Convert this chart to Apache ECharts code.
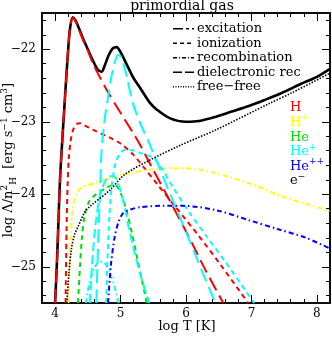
<!DOCTYPE html>
<html><head><meta charset="utf-8">
<script src="https://cdn.jsdelivr.net/npm/echarts@6/dist/echarts.min.js"></script>
<style>html,body{margin:0;padding:0;background:#fff}#c{width:332px;height:338px}</style>
</head><body><div id="c"></div>
<script>
// ---- ticks ----
const xMajorTicks = [4, 5, 6, 7, 8];
const xMinorTicks = [4.2,4.4,4.6,4.8,5.2,5.4,5.6,5.8,6.2,6.4,6.6,6.8,7.2,7.4,7.6,7.8];
const yMajorTicks = [-25, -24, -23, -22];
const yMinorTicks = [-25.4,-25.2,-24.8,-24.6,-24.4,-24.2,-23.8,-23.6,-23.4,-23.2,-22.8,-22.6,-22.4,-22.2,-21.8,-21.6];

// ---- data: [log T, log Lambda/nH^2] ----
const totalCooling = [[4.0,-25.5],[4.03,-24.9],[4.05,-24.4],[4.075,-23.8],[4.1,-23.4],[4.15,-22.68],[4.2,-22.0],[4.23,-21.7],[4.27,-21.56],[4.31,-21.6],[4.36,-21.7],[4.43,-21.86],[4.5,-22.0],[4.58,-22.16],[4.65,-22.28],[4.71,-22.31],[4.76,-22.22],[4.82,-22.08],[4.88,-21.99],[4.94,-21.97],[5.0,-22.04],[5.1,-22.22],[5.2,-22.4],[5.29,-22.52],[5.45,-22.74],[5.55,-22.83],[5.75,-22.95],[6.0,-23.0],[6.2,-22.99],[6.46,-22.93],[6.7,-22.86],[6.97,-22.78],[7.2,-22.7],[7.47,-22.6],[7.75,-22.48],[8.0,-22.38],[8.2,-22.27]];
const hExcitation = [[4.0,-25.5],[4.03,-24.9],[4.05,-24.4],[4.075,-23.8],[4.1,-23.4],[4.15,-22.68],[4.2,-22.0],[4.23,-21.7],[4.27,-21.57],[4.31,-21.61],[4.36,-21.72],[4.43,-21.88],[4.5,-22.02],[4.58,-22.2],[4.68,-22.38],[4.8,-22.58],[4.94,-22.79],[5.05,-22.95],[5.19,-23.15],[5.3,-23.32],[5.45,-23.58],[5.7,-24.0],[6.05,-24.6],[6.3,-25.05],[6.57,-25.5]];
const hIonization = [[4.16,-25.5],[4.175,-24.5],[4.19,-23.9],[4.21,-23.5],[4.24,-23.25],[4.28,-23.1],[4.33,-23.03],[4.38,-23.02],[4.45,-23.05],[4.6,-23.12],[4.72,-23.17],[4.84,-23.22],[5.0,-23.3],[5.19,-23.45],[5.4,-23.68],[5.55,-23.85],[5.8,-24.13],[6.2,-24.58],[6.55,-25.0],[6.95,-25.5]];
const hpRecombination = [[4.2,-25.5],[4.22,-25.0],[4.24,-24.6],[4.27,-24.2],[4.32,-24.02],[4.41,-23.9],[4.6,-23.85],[4.8,-23.79],[5.1,-23.72],[5.45,-23.66],[5.9,-23.64],[6.2,-23.66],[6.46,-23.71],[6.97,-23.85],[7.47,-24.03],[7.9,-24.15],[8.2,-24.23]];
const heIonization = [[4.35,-25.5],[4.38,-25.0],[4.41,-24.6],[4.45,-24.3],[4.52,-24.1],[4.6,-24.02],[4.75,-23.93],[4.9,-23.87],[4.97,-23.92],[5.03,-24.05],[5.09,-24.22],[5.17,-24.52],[5.25,-24.86],[5.33,-25.2],[5.4,-25.5]];
const hepExcitation = [[4.63,-25.5],[4.66,-24.6],[4.69,-23.9],[4.71,-23.4],[4.76,-22.95],[4.81,-22.66],[4.86,-22.38],[4.91,-22.19],[4.96,-22.08],[5.0,-22.1],[5.05,-22.22],[5.1,-22.4],[5.19,-22.75],[5.3,-23.02],[5.44,-23.3],[5.7,-23.87],[6.05,-24.63],[6.25,-25.07],[6.45,-25.5]];
const hepIonization = [[4.78,-25.5],[4.8,-24.9],[4.83,-24.3],[4.87,-23.85],[4.93,-23.55],[5.0,-23.43],[5.06,-23.39],[5.15,-23.39],[5.3,-23.43],[5.5,-23.5],[5.6,-23.6],[5.8,-23.9],[6.05,-24.25],[6.33,-24.6],[6.6,-24.93],[7.04,-25.5]];
const hepRecombination = [[4.47,-25.5],[4.53,-25.2],[4.6,-25.02],[4.68,-24.93],[4.75,-24.94],[4.82,-25.05],[4.9,-25.25],[4.97,-25.5]];
const hepDielectronic = [[4.53,-25.5],[4.57,-24.9],[4.62,-24.4],[4.68,-24.05],[4.75,-23.85],[4.83,-23.75],[4.9,-23.75],[4.96,-23.85],[5.02,-24.02],[5.07,-24.2],[5.11,-24.4],[5.2,-24.75],[5.3,-25.1],[5.44,-25.5]];
const heppRecombination = [[4.81,-25.5],[4.85,-25.0],[4.91,-24.59],[4.97,-24.38],[5.04,-24.26],[5.15,-24.21],[5.29,-24.18],[5.6,-24.16],[5.95,-24.16],[6.46,-24.22],[6.97,-24.36],[7.4,-24.48],[7.83,-24.6],[8.2,-24.75]];
const freeFree = [[4.18,-25.5],[4.21,-25.1],[4.25,-24.75],[4.3,-24.55],[4.35,-24.45],[4.45,-24.25],[4.53,-24.17],[4.84,-23.94],[5.06,-23.73],[5.445,-23.53],[5.9,-23.33],[6.46,-23.11],[7.27,-22.75],[7.62,-22.6],[8.2,-22.33]];

const legendLabels = ['excitation','ionization','recombination','dielectronic rec','free\u2212free'];
const speciesLabels = ['H','H{s|+}','He','He{s|+}','He{s|++}','e{s|\u2212}'];

const RED='#ff0000', YEL='#ffff00', GRN='#00e000', CYA='#00ffff', BLU='#0000ff', BLK='#000000';
const EXC=[14,6], ION=[5,4], REC=[5,3,1.5,3], DIE=[9,4], FF=[1.5,1.5];
const FONT='DejaVu Serif';

function xAx(pos, ticks, len, labels){
  return {type:'value', min:3.8, max:8.2, position:pos, gridIndex:0,
    axisLine:{show:true,onZero:false,lineStyle:{color:'#000',width:1.5}},
    axisTick:{show:true,inside:true,length:len,customValues:ticks,lineStyle:{color:'#000',width:1}},
    axisLabel:{show:labels,customValues:ticks,margin:5,color:'#000',fontFamily:FONT,fontSize:12},
    splitLine:{show:false}, minorTick:{show:false}};
}
function yAx(pos, ticks, len, labels){
  return {type:'value', min:-25.5, max:-21.5, position:pos, gridIndex:0,
    axisLine:{show:true,onZero:false,lineStyle:{color:'#000',width:1.5}},
    axisTick:{show:true,inside:true,length:len,customValues:ticks,lineStyle:{color:'#000',width:1}},
    axisLabel:{show:labels,customValues:ticks,margin:6,color:'#000',fontFamily:FONT,fontSize:12,
      formatter:v=>String(v).replace('-','\u2212')},
    splitLine:{show:false}, minorTick:{show:false}};
}
function ser(name,data,color,dash,width,z){
  return {type:'line',name,data,xAxisIndex:0,yAxisIndex:0,symbol:'none',showSymbol:false,smooth:0.3,
    clip:true,silent:true,z:z||3,lineStyle:{color,width:width||2,type:dash,cap:'butt'}};
}

const graphic = [];
graphic.push({type:'text',x:182,y:6,style:{text:'primordial gas',font:'14px '+FONT,fill:'#000',align:'center',verticalAlign:'middle'}});
graphic.push({type:'text',x:187,y:327,style:{text:'log T [K]',font:'13px '+FONT,fill:'#000',align:'center',verticalAlign:'middle'}});
graphic.push({type:'text',x:9,y:160,rotation:Math.PI/2,style:{
  text:'log \u039b/n{s|2}{b|H}  [erg s{s|\u22121} cm{s|3}]',font:'13px '+FONT,fill:'#000',align:'center',verticalAlign:'middle',lineHeight:18,
  rich:{s:{fontSize:9,fontFamily:FONT,verticalAlign:'top',lineHeight:10},b:{fontSize:9,fontFamily:FONT,verticalAlign:'bottom',lineHeight:10}}}});
const legendDash=[[10,3,3,3],[4,3],[4,2,1,2],[9,3],[1,1.5]];
legendLabels.forEach((t,i)=>{
  const y=28.7+14.5*i;
  graphic.push({type:'line',shape:{x1:173,y1:y,x2:194,y2:y},style:{stroke:'#000',lineWidth:1.5,lineDash:legendDash[i]}});
  graphic.push({type:'text',x:197,y:y,style:{text:t,font:'13px '+FONT,fill:'#000',align:'left',verticalAlign:'middle'}});
});
const spColors=[RED,YEL,GRN,CYA,BLU,BLK];
speciesLabels.forEach((t,i)=>{
  graphic.push({type:'text',x:290,y:108+14.6*i,style:{text:t,font:'13px '+FONT,fill:spColors[i],align:'left',verticalAlign:'middle',lineHeight:18,
    rich:{s:{fontSize:9,fontFamily:FONT,fill:spColors[i],verticalAlign:'top',lineHeight:10}}}});
});

const option = {
  animation:false, backgroundColor:'#fff',
  grid:{left:42,right:2,top:13,bottom:35,containLabel:false,outerBoundsMode:'none'},
  xAxis:[xAx('bottom',xMajorTicks,8,true),xAx('bottom',xMinorTicks,4,false),xAx('top',xMajorTicks,8,false),xAx('top',xMinorTicks,4,false)],
  yAxis:[yAx('left',yMajorTicks,8,true),yAx('left',yMinorTicks,4,false),yAx('right',yMajorTicks,8,false),yAx('right',yMinorTicks,4,false)],
  series:[
    ser('total',totalCooling,BLK,'solid',2.6,2),
    ser('H exc',hExcitation,RED,EXC,2,3),
    ser('H ion',hIonization,RED,ION,2,3),
    ser('H+ rec',hpRecombination,YEL,REC,2,3),
    ser('He ion',heIonization,GRN,ION,2,3),
    ser('He+ exc',hepExcitation,CYA,EXC,2,3),
    ser('He+ ion',hepIonization,CYA,ION,2,3),
    ser('He+ rec',hepRecombination,CYA,REC,2,3),
    ser('He+ diel',hepDielectronic,CYA,DIE,2,3),
    ser('He++ rec',heppRecombination,BLU,REC,2,3),
    ser('free-free',freeFree,BLK,FF,1.6,4)
  ],
  graphic
};
const chart = echarts.init(document.getElementById('c'),null,{renderer:'canvas'});
chart.setOption(option);
</script></body></html>
